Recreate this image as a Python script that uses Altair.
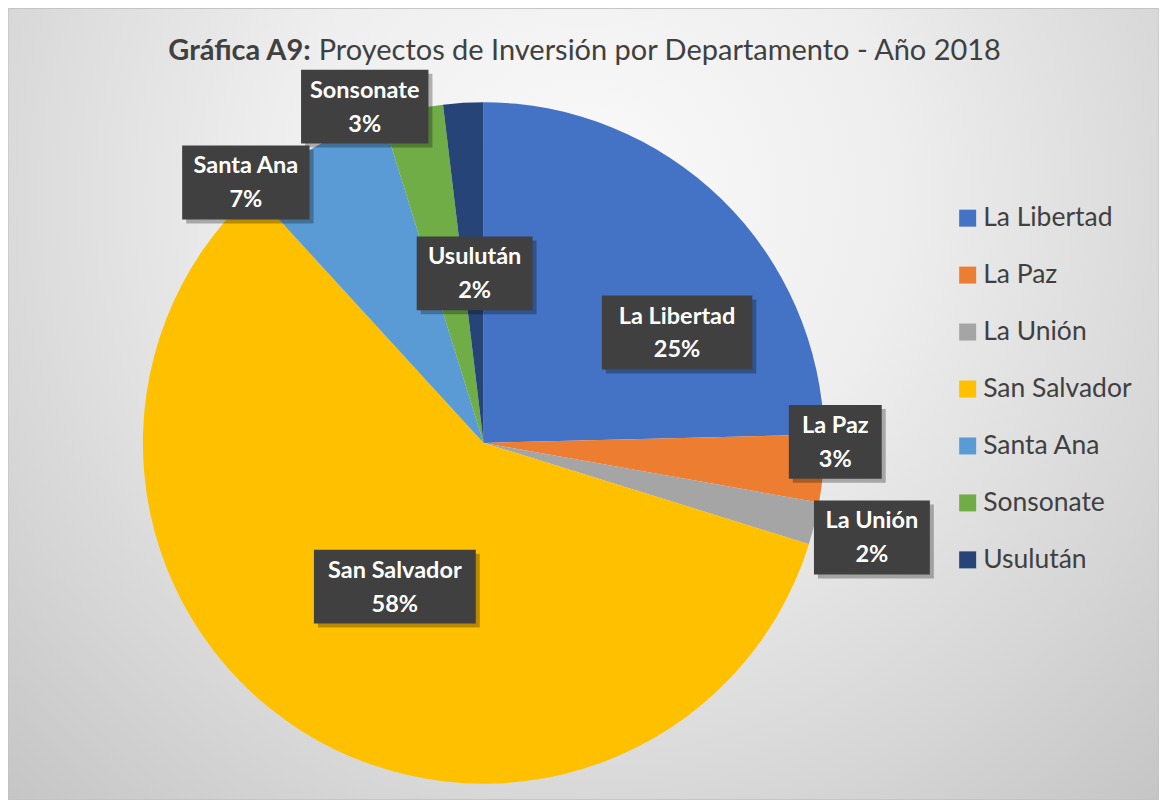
import altair as alt
import pandas as pd

# ---- data ----
departments = ["La Libertad", "La Paz", "La Unión", "San Salvador", "Santa Ana", "Sonsonate", "Usulután"]
shares = [24.6, 3.2, 2.0, 58.4, 7.0, 2.9, 1.9]
colors = ["#4472C4", "#ED7D31", "#A5A5A5", "#FFC000", "#5B9BD5", "#70AD47", "#264478"]
title_bold = "Gráfica A9:"
title_rest = "Proyectos de Inversión por Departamento - Año 2018"

# ---- layout (not data) ----
W, H = 1152, 792
CX, CY, R = 476, 435, 341
label_radius = [223, 352, 400, 169, 353, 357, 170]
label_angle_shift = [16, -4.5, 0, -0.7, -12.5, -7.4, 0.4]
LEG_X, LEG_Y, LEG_STEP = 952, 210, 57
FONT = "Lato"

df = pd.DataFrame({
    "dept": departments,
    "value": shares,
    "order": list(range(len(departments))),
    "lr": label_radius,
    "ls": label_angle_shift,
})

base = alt.Chart(df)

color_scale = alt.Scale(domain=departments, range=colors)

pie = base.mark_arc(outerRadius=R, stroke=None).encode(
    theta=alt.Theta("value:Q", stack=True),
    order=alt.Order("order:Q"),
    color=alt.Color("dept:N", scale=color_scale, legend=None),
    x=alt.value(CX),
    y=alt.value(CY),
)

lab = base.transform_joinaggregate(total="sum(value)").transform_window(
    cum="sum(value)", frame=[None, 0], sort=[alt.SortField("order")]
).transform_calculate(
    mid="(datum.cum - datum.value/2) / datum.total * 360",
    la="(datum.mid + datum.ls) * PI / 180",
    lx=f"{CX} + datum.lr * sin(datum.la)",
    ly=f"{CY} - datum.lr * cos(datum.la)",
    pct="format(round(datum.value / datum.total * 100), 'd') + '%'",
    bw="max(length(datum.dept), length(datum.pct)) * 11.5 + 24",
    x1="datum.lx - datum.bw/2",
    x2="datum.lx + datum.bw/2",
    y1="datum.ly - 37",
    y2="datum.ly + 37",
    sx1="datum.x1 + 4", sx2="datum.x2 + 4", sy1="datum.y1 + 4", sy2="datum.y2 + 4",
    ty1="datum.ly - 16",
    ty2="datum.ly + 18",
)

shadow = lab.mark_rect(fill="#000000", opacity=0.28).encode(
    x=alt.X("sx1:Q", scale=None), x2="sx2:Q",
    y=alt.Y("sy1:Q", scale=None), y2="sy2:Q",
)
box = lab.mark_rect(fill="#404040").encode(
    x=alt.X("x1:Q", scale=None), x2="x2:Q",
    y=alt.Y("y1:Q", scale=None), y2="y2:Q",
)
t1 = lab.mark_text(font=FONT, fontSize=23.5, fontWeight="bold", color="white", baseline="middle").encode(
    x=alt.X("lx:Q", scale=None), y=alt.Y("ty1:Q", scale=None), text="dept:N"
)
t2 = lab.mark_text(font=FONT, fontSize=23.5, fontWeight="bold", color="white", baseline="middle").encode(
    x=alt.X("lx:Q", scale=None), y=alt.Y("ty2:Q", scale=None), text="pct:N"
)

leg = base.transform_calculate(ly=f"{LEG_Y} + datum.order * {LEG_STEP}")
leg_sym = leg.mark_square(size=17 * 17, opacity=1).encode(
    x=alt.value(LEG_X + 8.5),
    y=alt.Y("ly:Q", scale=None),
    color=alt.Color("dept:N", scale=color_scale, legend=None),
)
leg_txt = leg.mark_text(font=FONT, fontSize=26.5, color="#404040", align="left", baseline="middle").encode(
    x=alt.value(LEG_X + 24),
    y=alt.Y("ly:Q", scale=None),
    text="dept:N",
)

one = alt.Chart(pd.DataFrame({"a": [1]}))
bg = one.mark_rect(
    stroke="#bfbfbf", strokeWidth=1,
    fill={
        "gradient": "radial",
        "x1": 0.5, "y1": 0.32, "r1": 0,
        "x2": 0.5, "y2": 0.32, "r2": 0.78,
        "stops": [
            {"offset": 0, "color": "#fafafa"},
            {"offset": 0.35, "color": "#eeeeee"},
            {"offset": 0.7, "color": "#d6d6d6"},
            {"offset": 1, "color": "#c0c0c0"},
        ],
    },
).encode(x=alt.value(0), x2=alt.value(W), y=alt.value(0), y2=alt.value(H))

SPLIT = 303
tb = one.mark_text(font=FONT, fontSize=29, fontWeight="bold", color="#404040", align="right", baseline="alphabetic").encode(
    x=alt.value(SPLIT), y=alt.value(52), text=alt.value(title_bold)
)
tr = one.mark_text(font=FONT, fontSize=29, color="#404040", align="left", baseline="alphabetic").encode(
    x=alt.value(SPLIT + 8), y=alt.value(52), text=alt.value(title_rest)
)

chart = alt.layer(bg, tb, tr, pie, shadow, box, t1, t2, leg_sym, leg_txt).properties(
    width=W, height=H, padding=0, autosize=alt.AutoSizeParams(type="none")
).configure_view(stroke=None)

chart.save("out.html", embed_options={"renderer": "svg", "actions": False})
